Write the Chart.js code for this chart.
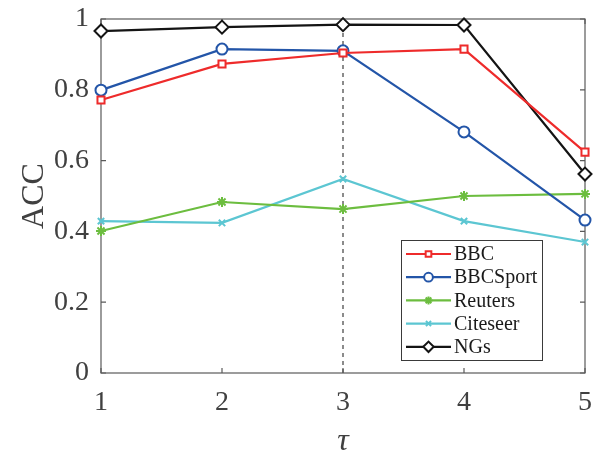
<!DOCTYPE html>
<html>
<head>
<meta charset="utf-8">
<script src="https://cdn.jsdelivr.net/npm/chart.js@4.4.1/dist/chart.umd.min.js"></script>
<style>
html,body{margin:0;padding:0;background:#fff;}
#wrap{width:606px;height:452px;position:relative;}
</style>
</head>
<body>
<div id="wrap"><canvas id="c" width="606" height="452"></canvas></div>
<script>
const tauLabels = ['1', '2', '3', '4', '5'];
const bbc      = [0.771, 0.873, 0.904, 0.915, 0.624];
const bbcSport = [0.799, 0.915, 0.910, 0.681, 0.432];
const reuters  = [0.401, 0.483, 0.463, 0.500, 0.506];
const citeseer = [0.429, 0.424, 0.548, 0.429, 0.370];
const ngs      = [0.966, 0.977, 0.984, 0.983, 0.562];
const yTicks   = [0, 0.2, 0.4, 0.6, 0.8, 1];
const markedTau = '3';

const FONT = "'Liberation Serif', 'Times New Roman', serif";
const AXIS_COLOR = '#5a5a5a';
const TEXT_COLOR = '#404040';

function ds(label, data, color, style, radius, fill) {
  return {
    label, data,
    borderColor: color, backgroundColor: color,
    borderWidth: 2.2,
    pointStyle: style, pointRadius: radius, pointHoverRadius: radius,
    pointBorderColor: color, pointBackgroundColor: fill,
    pointBorderWidth: 2,
    tension: 0, clip: false
  };
}

const datasets = [
  ds('BBC', bbc, '#ee2b2b', 'rect', 5, '#ffffff'),
  ds('BBCSport', bbcSport, '#2355a8', 'circle', 5.5, '#ffffff'),
  ds('Reuters', reuters, '#6cbd3f', 'star', 5, '#6cbd3f'),
  ds('Citeseer', citeseer, '#5cc6d2', 'crossRot', 4.5, '#5cc6d2'),
  ds('NGs', ngs, '#141414', 'rectRot', 6.5, '#ffffff')
];

const framePlugin = {
  id: 'frame',
  beforeDatasetsDraw(chart) {
    const {ctx, chartArea: a, scales} = chart;
    ctx.save();
    const xm = scales.x.getPixelForValue(tauLabels.indexOf(markedTau));
    ctx.strokeStyle = '#666';
    ctx.lineWidth = 1.5;
    ctx.setLineDash([4, 4]);
    ctx.beginPath();
    ctx.moveTo(xm, a.bottom);
    ctx.lineTo(xm, a.top);
    ctx.stroke();
    ctx.setLineDash([]);
    ctx.strokeStyle = AXIS_COLOR;
    ctx.lineWidth = 1.2;
    ctx.strokeRect(a.left, a.top, a.right - a.left, a.bottom - a.top);
    const tl = 5;
    ctx.beginPath();
    tauLabels.forEach((t, i) => {
      const x = scales.x.getPixelForValue(i);
      ctx.moveTo(x, a.bottom); ctx.lineTo(x, a.bottom - tl);
      ctx.moveTo(x, a.top); ctx.lineTo(x, a.top + tl);
    });
    yTicks.forEach(v => {
      const y = scales.y.getPixelForValue(v);
      ctx.moveTo(a.left, y); ctx.lineTo(a.left + tl, y);
      ctx.moveTo(a.right, y); ctx.lineTo(a.right - tl, y);
    });
    ctx.stroke();
    ctx.restore();
  },
  afterDraw(chart) {
    const {ctx} = chart;
    const bx = 401, by = 240, bw = 141, bh = 120;
    ctx.save();
    ctx.fillStyle = '#fff';
    ctx.fillRect(bx, by, bw, bh);
    ctx.strokeStyle = '#3a3a3a';
    ctx.lineWidth = 1;
    ctx.strokeRect(bx + 0.5, by + 0.5, bw, bh);
    ctx.font = '20px ' + FONT;
    ctx.textBaseline = 'middle';
    ctx.textAlign = 'left';
    chart.data.datasets.forEach((d, i) => {
      const y = 254 + i * 23.2;
      ctx.strokeStyle = d.borderColor;
      ctx.lineWidth = d.borderWidth;
      ctx.beginPath();
      ctx.moveTo(406, y); ctx.lineTo(451, y);
      ctx.stroke();
      ctx.fillStyle = d.pointBackgroundColor;
      ctx.strokeStyle = d.pointBorderColor;
      ctx.lineWidth = d.pointBorderWidth;
      Chart.helpers.drawPoint(ctx, {pointStyle: d.pointStyle, radius: d.pointRadius * 0.8, rotation: 0, borderWidth: d.pointBorderWidth}, 428.5, y);
      ctx.fillStyle = '#1a1a1a';
      ctx.fillText(d.label, 454, y + 1);
    });
    ctx.restore();
  }
};

new Chart(document.getElementById('c'), {
  type: 'line',
  data: { labels: tauLabels, datasets },
  options: {
    responsive: false,
    animation: false,
    devicePixelRatio: 1,
    layout: { padding: { top: 19, right: 21, left: 0, bottom: 0 } },
    plugins: { legend: { display: false }, tooltip: { enabled: false } },
    scales: {
      x: {
        type: 'category', offset: false,
        grid: { display: false },
        border: { display: false },
        ticks: { color: TEXT_COLOR, font: { family: FONT, size: 28 }, padding: 5, maxRotation: 0, autoSkip: false },
        title: { display: true, text: 'τ', color: TEXT_COLOR, font: { family: FONT, size: 32, style: 'italic' }, padding: { top: 0, bottom: -9 } },
        afterFit(s) { s.height = 79; s.paddingLeft = 0; s.paddingRight = 0; }
      },
      y: {
        min: 0, max: 1,
        grid: { display: false },
        border: { display: false },
        afterBuildTicks(s) { s.ticks = yTicks.map(v => ({ value: v })); },
        ticks: { color: TEXT_COLOR, font: { family: FONT, size: 28 }, padding: 4, callback: v => String(Math.round(v * 10) / 10) },
        title: { display: true, text: 'ACC', color: TEXT_COLOR, font: { family: FONT, size: 32 }, padding: { top: 15, bottom: 0 } },
        afterFit(s) { s.width = 101; s.paddingTop = 0; s.paddingBottom = 0; }
      }
    }
  },
  plugins: [framePlugin]
});
</script>
</body>
</html>
